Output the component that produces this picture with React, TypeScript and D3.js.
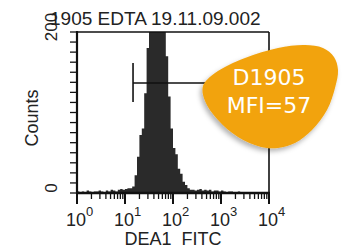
import React from "react";
import * as d3 from "d3";

const title = "1905 EDTA 19.11.09.002";
const xLabel = "DEA1  FITC";
const yLabel = "Counts";
const decades = [0, 1, 2, 3, 4];
const yMax = 200;
const sample = "D1905";
const mfi = 57;
const markerRange = [14.7, 10000];

// counts per channel, each channel 0.05 decade wide starting at 10^0
const lowChannels = [2, 1, 2, 1, 3, 2, 1, 2, 2, 3, 2, 1, 3, 2, 4, 3, 2, 4, 5, 4];
const peakChannels = [
  5, 6, 6, 8, 22, 45, 72, 80, 124, 180, 240, 250, 250, 250, 245, 235, 210, 170,
  120, 80, 56, 48, 30, 24, 14, 10, 6, 4, 4, 3,
];
const tailChannels = [
  4, 5, 3, 4, 3, 4, 2, 3, 3, 2, 3, 2, 1, 2, 2, 1, 1, 2, 1, 1, 0, 1, 1, 0, 1, 0, 1,
  0, 0, 1,
];
const counts = [...lowChannels, ...peakChannels, ...tailChannels];

const font = "'Liberation Sans', Arial, sans-serif";

const App = () => {
  const width = 343,
    height = 251;
  const margin = { top: 32, right: 74, bottom: 58, left: 77 };

  const x = d3
    .scaleLog()
    .domain([1, 1e4])
    .range([margin.left, width - margin.right]);
  const y = d3
    .scaleLinear()
    .domain([0, yMax])
    .range([height - margin.bottom, margin.top])
    .clamp(true);

  const bw = 4 / counts.length;
  const pts = counts.map((c, i) => ({ v: Math.pow(10, i * bw), c }));
  pts.push({ v: 1e4, c: counts[counts.length - 1] });

  const area = d3
    .area<{ v: number; c: number }>()
    .x((d) => x(d.v))
    .y0(y(0))
    .y1((d) => y(d.c))
    .curve(d3.curveStepAfter);

  const yTicks = d3.range(0, yMax + 0.1, yMax / 16);
  const minor = decades.slice(0, -1).flatMap((d) =>
    d3.range(2, 10).map((k) => k * Math.pow(10, d))
  );

  const x0 = x.range()[0],
    x1 = x.range()[1],
    yb = y(0),
    yt = y(yMax);

  // annotation bubble outline
  const blob: [number, number][] = [
    [215, 73], [245, 58], [278, 48], [305, 45], [323, 48], [334, 57], [338, 70],
    [335, 88], [327, 110], [312, 130], [295, 143], [278, 148], [261, 147],
    [238, 137], [218, 120], [205, 101], [203, 86],
  ];
  const blobPath = d3.line().curve(d3.curveCatmullRomClosed.alpha(0.5))(blob);

  const markY = 83;

  return (
    <svg
      width={width}
      height={height}
      style={{ position: "absolute", left: 0, top: 0, background: "#fff" }}
      fontFamily={font}
    >
      <defs>
        <filter id="sh" x="-20%" y="-20%" width="140%" height="140%">
          <feDropShadow dx="-2" dy="3" stdDeviation="2.5" floodColor="#000" floodOpacity="0.3" />
        </filter>
      </defs>

      <text x={50} y={25} fontSize={19} fill="#222">
        {title}
      </text>

      <path d={area(pts) || ""} fill="#2a2a2a" />

      {/* frame */}
      <g stroke="#111" fill="none">
        <line x1={x0} x2={x1} y1={yt} y2={yt} strokeWidth={1.6} />
        <line x1={x1} x2={x1} y1={yt} y2={yb} strokeWidth={1.6} />
        <line x1={x0} x2={x0} y1={yt - 1} y2={yb + 1} strokeWidth={2.2} />
        <line x1={x0 - 1} x2={x1 + 1} y1={yb} y2={yb} strokeWidth={2.6} />
      </g>

      {/* y ticks */}
      <g stroke="#111" strokeWidth={1.3}>
        {yTicks.map((t) => (
          <line key={t} x1={x0 - 7} x2={x0} y1={y(t)} y2={y(t)} />
        ))}
      </g>
      <text
        transform={`translate(57,${y(0) - 5}) rotate(-90)`}
        textAnchor="middle"
        fontSize={17}
        fill="#222"
      >
        0
      </text>
      <text
        transform={`translate(57,${y(yMax) - 5}) rotate(-90)`}
        textAnchor="middle"
        fontSize={17}
        fill="#222"
      >
        {yMax}
      </text>
      <text
        transform={`translate(38,118) rotate(-90)`}
        textAnchor="middle"
        fontSize={18}
        fill="#222"
      >
        {yLabel}
      </text>

      {/* x ticks */}
      <g stroke="#111" strokeWidth={1.3}>
        {minor.map((v) => (
          <line key={v} x1={x(v)} x2={x(v)} y1={yb} y2={yb + 6} />
        ))}
        {decades.map((d) => (
          <line
            key={d}
            x1={x(Math.pow(10, d))}
            x2={x(Math.pow(10, d))}
            y1={yb}
            y2={yb + 11}
            strokeWidth={2}
          />
        ))}
      </g>
      {decades.map((d) => (
        <text key={d} x={x(Math.pow(10, d)) - 11} y={226} fontSize={18} fill="#222">
          10
          <tspan dy={-10} fontSize={13}>
            {d}
          </tspan>
        </text>
      ))}
      <text
        x={(x0 + x1) / 2}
        y={245}
        textAnchor="middle"
        fontSize={18}
        fill="#222"
        style={{ whiteSpace: "pre" }}
      >
        {xLabel}
      </text>

      {/* marker */}
      <g stroke="#111" strokeWidth={1.6}>
        <line x1={x(markerRange[0])} x2={x(markerRange[1])} y1={markY} y2={markY} />
        <line x1={x(markerRange[0])} x2={x(markerRange[0])} y1={markY - 20} y2={markY + 19} />
        <line x1={x(markerRange[1])} x2={x(markerRange[1])} y1={markY - 20} y2={markY + 19} />
      </g>

      {/* annotation */}
      <path d={blobPath || ""} fill="#F2A30F" filter="url(#sh)" />
      <g fill="#fff" fontFamily="'DejaVu Sans', Verdana, sans-serif" fontSize={22} textAnchor="middle">
        <text x={269} y={85}>
          {sample}
        </text>
        <text x={269} y={113}>
          MFI={mfi}
        </text>
      </g>
    </svg>
  );
};

export default App;
